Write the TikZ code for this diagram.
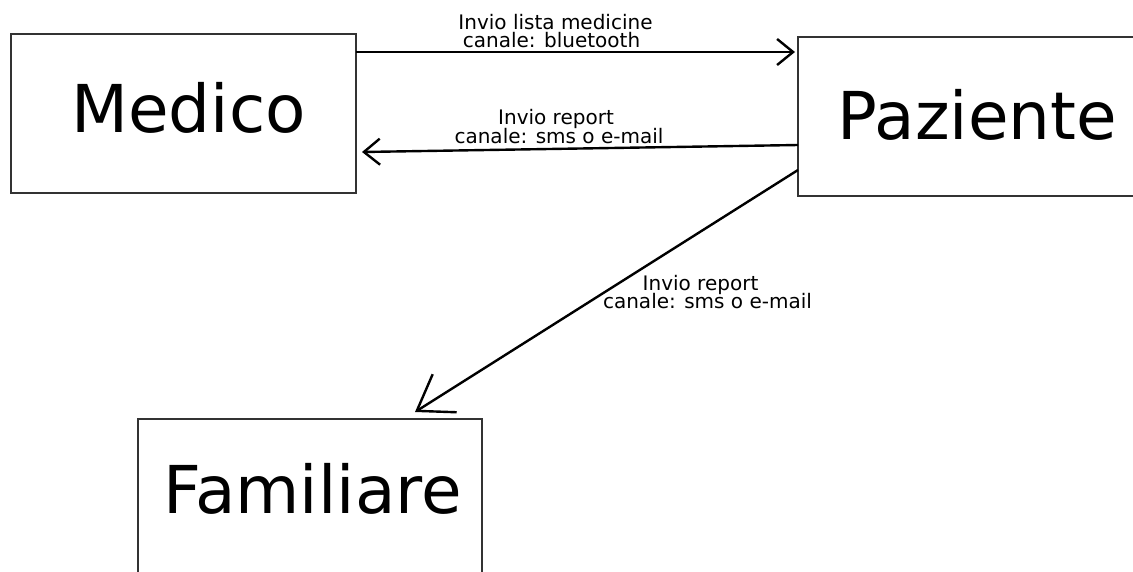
\documentclass[tikz,border=0pt]{standalone}
\usepackage{fontspec}
\setmainfont{DejaVu Sans}
\usetikzlibrary{arrows.meta}
\begin{document}
\begin{tikzpicture}[x=1pt,y=-1pt,
  box/.style={draw=black!80, line width=1.8pt, inner sep=0pt, outer sep=0pt, fill=none},
  big/.style={font=\fontsize{66pt}{66pt}\selectfont, inner sep=0pt, anchor=base},
  lbl/.style={font=\fontsize{20pt}{20pt}\selectfont, inner sep=0pt, anchor=base},
  arrsmall/.style={line width=2.4pt, -{Straight Barb[length=16pt,width=26pt,line width=2.4pt]}},
  arrbig/.style={line width=2.4pt, -{Straight Barb[length=33pt,width=45pt,line width=2.4pt]}}]
\useasboundingbox (0,0) rectangle (1133,571);
\fill[white] (0,0) rectangle (1133,571);
\begin{scope}
\clip (0,0) rectangle (1133,571);
% boxes
\node[box, minimum width=345pt, minimum height=159pt] (medico) at (183.5,113.5) {};
\node[box, minimum width=359pt, minimum height=159pt] (paziente) at (977.5,116.5) {};
\node[box, minimum width=344pt, minimum height=156pt] (familiare) at (310,497) {};
\end{scope}
% box texts
\node[big] (medicoT) at (188.5,132) {Medico};
\node[big] (pazienteT) at (977.5,139) {Paziente};
\node[big] (familiareT) at (312.5,513) {Familiare};
% connectors
\draw[arrsmall] ([yshift=-18pt]medico.north east) -- ([xshift=-3pt,yshift=-15pt]paziente.north west);
\draw[arrsmall] ([yshift=-28.5pt]paziente.west) -- ([xshift=6pt,yshift=-38.5pt]medico.east);
\draw[arrbig] ([yshift=-53.5pt]paziente.west) -- ([xshift=105pt,yshift=7pt]familiare.north);
% labels
\node[lbl] (l1a) at (555.5,29) {Invio lista medicine};
\node[lbl] (l1b) at (551.5,47.5) {canale: bluetooth};
\node[lbl] (l2a) at (556,124) {Invio report};
\node[lbl] (l2b) at (559,143) {canale: sms o e-mail};
\node[lbl] (l3a) at (700.5,290) {Invio report};
\node[lbl] (l3b) at (707.5,308) {canale: sms o e-mail};
\end{tikzpicture}
\end{document}
